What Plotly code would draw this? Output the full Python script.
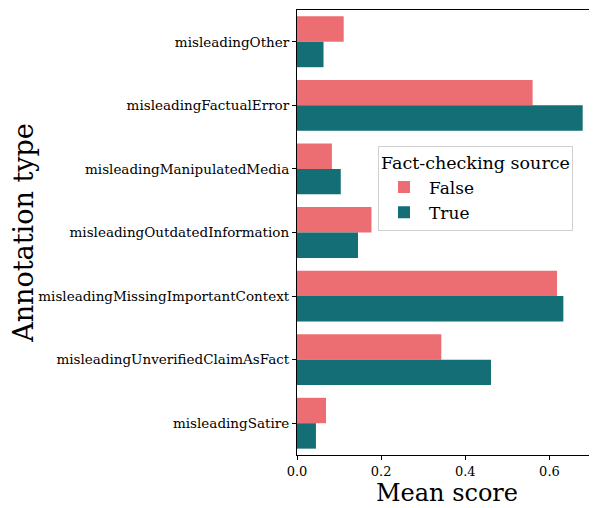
import plotly.graph_objects as go

categories = ['misleadingOther', 'misleadingFactualError', 'misleadingManipulatedMedia',
              'misleadingOutdatedInformation', 'misleadingMissingImportantContext',
              'misleadingUnverifiedClaimAsFact', 'misleadingSatire']
false_scores = [0.111, 0.560, 0.083, 0.177, 0.618, 0.343, 0.069]
true_scores = [0.063, 0.679, 0.104, 0.145, 0.633, 0.461, 0.045]
x_ticks = [0.0, 0.2, 0.4, 0.6]

font = 'DejaVu Serif'

fig = go.Figure()
fig.add_trace(go.Bar(y=categories, x=false_scores, orientation='h', name='False',
                     marker_color='#ED6E72', marker_line_width=0))
fig.add_trace(go.Bar(y=categories, x=true_scores, orientation='h', name='True',
                     marker_color='#136E75', marker_line_width=0))

# page body adds an 8px offset, so the figure is a bit smaller than the window
fig.update_layout(
    width=589, height=501,
    margin=dict(l=289, r=0, t=2, b=54),
    barmode='group', bargap=0.2, bargroupgap=0,
    plot_bgcolor='white', paper_bgcolor='white',
    font=dict(family=font, color='black'),
    legend=dict(title=dict(text='Fact-checking source', font=dict(size=17.5, family=font)),
                font=dict(size=17, family=font), itemwidth=40,
                x=0.27, y=0.695, xanchor='left', yanchor='top',
                bgcolor='white', bordercolor='#d0d0d0', borderwidth=1),
)
fig.update_xaxes(range=[0, 0.713], tickvals=x_ticks, tickformat='.1f',
                 ticks='outside', ticklen=4, tickcolor='black',
                 showline=True, linecolor='black', linewidth=1.2, mirror=True,
                 showgrid=False, zeroline=False, tickfont=dict(size=13),
                 title=dict(text='Mean score', font=dict(size=24), standoff=2))
fig.update_yaxes(autorange='reversed', ticks='outside', ticklen=4, tickcolor='black',
                 showline=True, linecolor='black', linewidth=1.2,
                 showgrid=False, tickfont=dict(size=13.5),
                 title=dict(text='Annotation type', font=dict(size=27), standoff=4))

fig.write_html('out.html')
